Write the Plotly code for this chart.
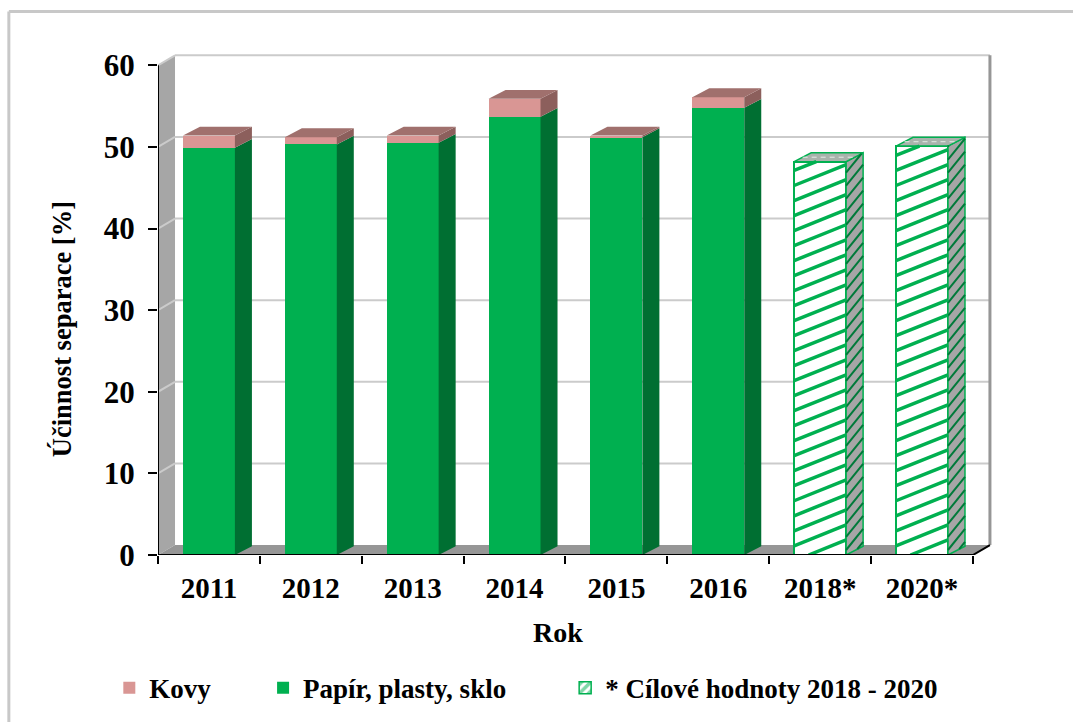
import plotly.graph_objects as go

years = ["2011", "2012", "2013", "2014", "2015", "2016", "2018*", "2020*"]
papir = [49.9, 50.3, 50.5, 53.7, 51.2, 54.8, None, None]
kovy = [1.5, 0.9, 0.9, 2.2, 0.2, 1.3, None, None]
cil = [None, None, None, None, None, None, 48.2, 50.1]
yticks = [0, 10, 20, 30, 40, 50, 60]

GREEN = "#00B050"
BAR_W = 0.51
DX = 0.167
DY_WALL = 1.22
DY_BAR = 1.08
PX_X = 101.9
PX_Y = 8.155
X0, X1 = -0.5, 7.5 + DX + 0.03
Y1 = 62.0
L, BOTTOM_PX = 157.7, 555
W, H = 1073, 722
plot_w = (X1 - X0) * PX_X
plot_h = Y1 * PX_Y
idx = list(range(len(years)))


def px(xp):
    return (xp - L) / plot_w


def py(yp):
    return (BOTTOM_PX - yp) / plot_h


def side_faces(bottoms, tops):
    xs, ys = [], []
    for i, b, t in zip(idx, bottoms, tops):
        if t is None:
            continue
        x = i + BAR_W / 2
        xs += [x, x + DX, x + DX, x, x, None]
        ys += [b, b + DY_BAR, t + DY_BAR, t, b, None]
    return xs, ys


def top_faces(tops):
    xs, ys = [], []
    for i, t in zip(idx, tops):
        if t is None:
            continue
        a, c = i - BAR_W / 2, i + BAR_W / 2
        xs += [a, c, c + DX, a + DX, a, None]
        ys += [t, t, t + DY_BAR, t + DY_BAR, t, None]
    return xs, ys


def hatch_front(i, top, slope_px=0.4, gap_px=15.0):
    """Diagonal hatch clipped to the front face of a bar."""
    a, c = i - BAR_W / 2, i + BAR_W / 2
    w = (c - a) * PX_X
    h = top * PX_Y
    xs, ys = [], []
    start = -slope_px * w
    while start < h:
        p0x, p0y = 0.0, start
        p1x, p1y = w, start + slope_px * w
        if p0y < 0:
            p0x, p0y = -start / slope_px, 0.0
        if p1y > h:
            p1x, p1y = (h - start) / slope_px, h
        xs += [a + p0x / PX_X, a + p1x / PX_X, None]
        ys += [p0y / PX_Y, p1y / PX_Y, None]
        start += gap_px
    return xs, ys


def hatch_side(i, top, gap_px=13.0, rise_px=21.0):
    x = i + BAR_W / 2
    dy = DY_BAR * PX_Y
    xs, ys = [], []
    h = top * PX_Y
    start = -rise_px
    w = DX * PX_X
    while start < h + dy:
        t0, t1 = 0.0, 1.0
        slope = rise_px - dy
        if slope > 0:
            if start < 0:
                t0 = max(t0, -start / slope)
            if start + slope > h:
                t1 = min(t1, (h - start) / slope)
        if t0 < t1:
            xs += [x + t0 * w / PX_X, x + t1 * w / PX_X, None]
            ys += [(start + rise_px * t0) / PX_Y, (start + rise_px * t1) / PX_Y, None]
        start += gap_px
    return xs, ys


tops_p = papir
tops_k = [None if p is None else p + k for p, k in zip(papir, kovy)]

fig = go.Figure()

NB = "\u00a0"
fig.add_bar(name="Papír, plasty, sklo" + NB * 8, x=idx, y=papir, width=BAR_W,
            marker=dict(color=GREEN, line=dict(width=0)), legendrank=2, hoverinfo="y")
fig.add_bar(name="Kovy" + NB * 7, x=idx, y=kovy, width=BAR_W,
            marker=dict(color="#D99694", line=dict(width=0)), legendrank=1, hoverinfo="y")
fig.add_bar(x=idx, y=cil, width=BAR_W, showlegend=False,
            marker=dict(color="white", line=dict(color=GREEN, width=2)), hoverinfo="y")
fig.add_bar(name="* Cílové hodnoty 2018 - 2020", x=[None], y=[None], legendrank=3,
            marker=dict(color="white", line=dict(color=GREEN, width=1.5),
                        pattern=dict(shape="/", fgcolor=GREEN, bgcolor="white", size=8, solidity=0.55)))


def poly(xs, ys, color, line=None, width=0):
    fig.add_scatter(x=xs, y=ys, mode="lines", fill="toself", fillcolor=color,
                    line=dict(color=line or color, width=width), showlegend=False,
                    hoverinfo="skip", cliponaxis=False)


def strokes(xs, ys, color, width, dash="solid"):
    fig.add_scatter(x=xs, y=ys, mode="lines", line=dict(color=color, width=width, dash=dash),
                    showlegend=False, hoverinfo="skip", cliponaxis=False)


xs, ys = side_faces([0] * len(idx), tops_p)
poly(xs, ys, "#006F32")
xs, ys = side_faces(tops_p, tops_k)
poly(xs, ys, "#8C5F5C")
xs, ys = top_faces(tops_k)
poly(xs, ys, "#A0706D")

xs, ys = side_faces([0] * len(idx), cil)
poly(xs, ys, "#A6A6A6", GREEN, 1.5)
xs, ys = top_faces(cil)
poly(xs, ys, "#A9B3AC", GREEN, 1.5)
for i, v in zip(idx, cil):
    if v is None:
        continue
    xs, ys = hatch_side(i, v)
    strokes(xs, ys, "#007A3A", 2)
    xs, ys = hatch_front(i, v)
    strokes(xs, ys, GREEN, 3.5)
    strokes([i - BAR_W / 2 + DX / 2, i + BAR_W / 2 + DX / 2], [v + DY_BAR / 2, v + DY_BAR / 2],
            "#E4EBE6", 1, dash="5px,4px")

strokes([X0, X0], [0, yticks[-1]], "black", 2)
strokes([X0, 7.5, 7.5 + DX], [0, 0, DY_WALL], "black", 2)

shapes = []


def path(xs, ys):
    return "M" + " L".join(f"{x},{y}" for x, y in zip(xs, ys)) + " Z"


shapes.append(dict(type="path", xref="x", yref="y", layer="below", line_width=0, fillcolor="#A6A6A6",
                   path=path([X0, X0, X0 + DX, X0 + DX], [0, yticks[-1], yticks[-1] + DY_WALL, DY_WALL])))
shapes.append(dict(type="path", xref="x", yref="y", layer="below", line_width=0, fillcolor="#969696",
                   path=path([X0, 7.5, 7.5 + DX, X0 + DX], [0, 0, DY_WALL, DY_WALL])))
for v in yticks[1:]:
    shapes.append(dict(type="line", xref="x", yref="y", layer="below", line=dict(color="#CBCBCB", width=2),
                       x0=X0, y0=v, x1=X0 + DX, y1=v + DY_WALL))
    shapes.append(dict(type="line", xref="x", yref="y", layer="below", line=dict(color="#CBCBCB", width=2),
                       x0=X0 + DX, y0=v + DY_WALL, x1=7.5 + DX, y1=v + DY_WALL))
shapes.append(dict(type="line", xref="x", yref="y", layer="below", line=dict(color="#969696", width=3),
                   x0=7.5 + DX, y0=DY_WALL, x1=7.5 + DX, y1=yticks[-1] + DY_WALL))
shapes.append(dict(type="line", xref="paper", yref="paper", layer="below", line=dict(color="#C8C8C8", width=3),
                   x0=px(8.5), x1=px(8.5), y0=py(722), y1=py(12)))
shapes.append(dict(type="line", xref="paper", yref="paper", layer="below", line=dict(color="#C8C8C8", width=3),
                   x0=px(8.5), x1=px(1073), y0=py(12), y1=py(12)))

FONT = "Liberation Serif, Times New Roman, serif"
annotations = [
    dict(text="<b>Rok</b>", xref="paper", yref="paper", x=px(558), y=py(632), showarrow=False,
         xanchor="center", yanchor="middle", font=dict(size=28, family=FONT, color="black")),
    dict(text="<b>Účinnost separace [%]</b>", xref="paper", yref="paper", x=px(61), y=py(329), showarrow=False,
         xanchor="center", yanchor="middle", textangle=-90, font=dict(size=26.5, family=FONT, color="black")),
]

fig.update_layout(
    width=W, height=H, autosize=False,
    margin=dict(l=L, t=BOTTOM_PX - plot_h, b=H - BOTTOM_PX, r=W - L - plot_w, pad=0, autoexpand=False),
    paper_bgcolor="white", plot_bgcolor="white",
    barmode="stack", bargap=0.49,
    shapes=shapes, annotations=annotations,
    font=dict(family=FONT, color="black"),
    legend=dict(orientation="h", x=px(109), y=py(688), xanchor="left", yanchor="middle", traceorder="normal",
                font=dict(size=27, family=FONT, color="black", weight="bold"),
                itemclick=False, itemdoubleclick=False, bgcolor="rgba(0,0,0,0)"),
    xaxis=dict(range=[X0, X1], tickmode="array", tickvals=idx, ticktext=years, showgrid=False, zeroline=False,
               showline=False, ticks="outside", ticklen=7, tickcolor="rgba(0,0,0,0)",
               tickfont=dict(size=29, family=FONT, color="black", weight="bold"),
               minor=dict(tickmode="array", tickvals=[i - 0.5 for i in idx] + [7.5], ticks="outside",
                          ticklen=8, tickwidth=1.5, tickcolor="black", showgrid=False)),
    yaxis=dict(range=[0, Y1], tickmode="array", tickvals=yticks, showgrid=False, zeroline=False, showline=False,
               ticks="outside", ticklen=9, tickwidth=2, tickcolor="black", ticklabelstandoff=7,
               tickfont=dict(size=31, family=FONT, color="black", weight="bold")),
)

fig.write_html("out.html", config=dict(displayModeBar=False), post_script="document.body.style.margin='0';")
